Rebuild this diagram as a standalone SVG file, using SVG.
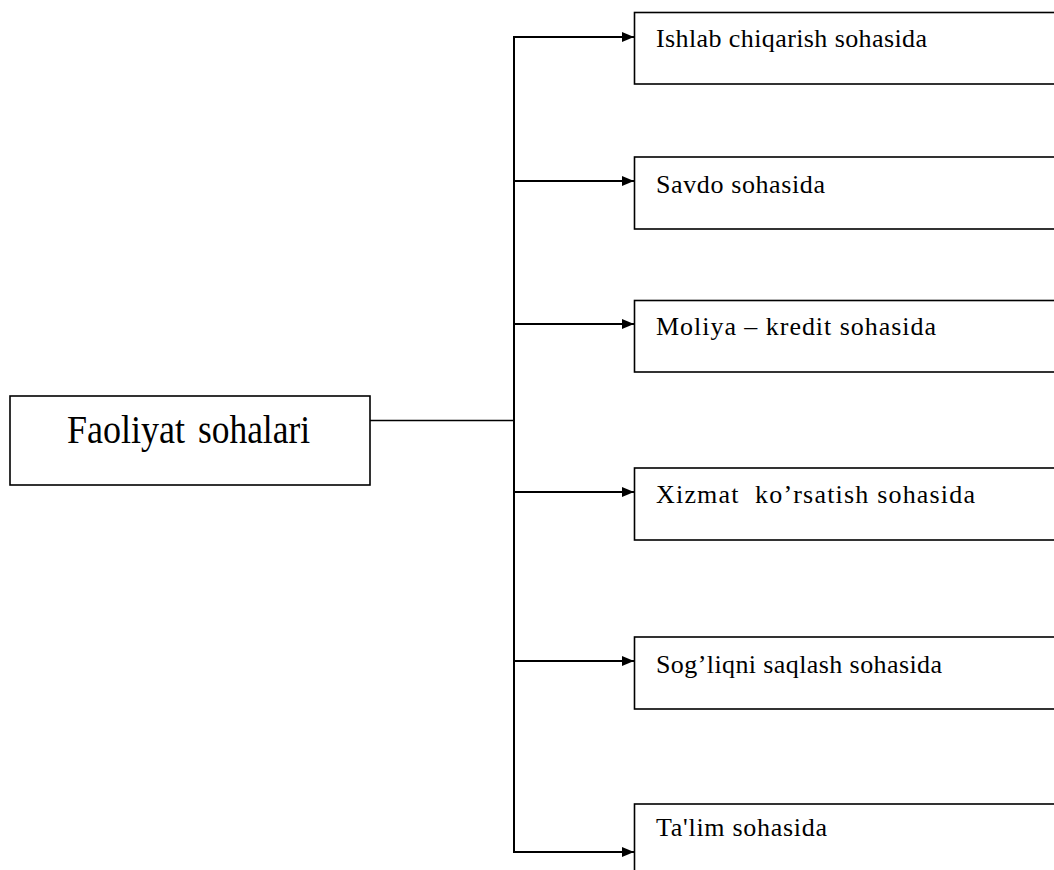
<svg xmlns="http://www.w3.org/2000/svg" width="1054" height="870" viewBox="0 0 1054 870">
<style>
.box{fill:#fff;stroke:#000;stroke-width:1.6}
.lbl{font-family:"Liberation Serif","Times New Roman",serif;font-size:26px;fill:#000}
.main{font-family:"Liberation Serif","Times New Roman",serif;font-size:40px;fill:#000}
.con{fill:none;stroke:#000;stroke-width:2}
</style>
<defs>
<marker id="arr" markerUnits="userSpaceOnUse" markerWidth="13" markerHeight="11" refX="12" refY="5.5" orient="auto">
<path d="M0,0.5 L12,5.5 L0,10.5 Z" fill="#000"/>
</marker>
</defs>
<rect width="1054" height="870" fill="#fff"/>
<g id="connectors">
<line x1="370" y1="420.5" x2="514" y2="420.5" stroke="#000" stroke-width="1.5"/>
<line class="con" x1="514" y1="37" x2="514" y2="852"/>
<line class="con" x1="513" y1="37" x2="634" y2="37" marker-end="url(#arr)"/>
<line class="con" x1="513" y1="181" x2="634" y2="181" marker-end="url(#arr)"/>
<line class="con" x1="513" y1="324" x2="634" y2="324" marker-end="url(#arr)"/>
<line class="con" x1="513" y1="492" x2="634" y2="492" marker-end="url(#arr)"/>
<line class="con" x1="513" y1="661" x2="634" y2="661" marker-end="url(#arr)"/>
<line class="con" x1="513" y1="852" x2="634" y2="852" marker-end="url(#arr)"/>
</g>
<g id="main-node">
<rect class="box" x="10" y="396" width="360" height="89"/>
<text class="main" y="443"><tspan x="67" textLength="118" lengthAdjust="spacingAndGlyphs">Faoliyat</tspan> <tspan x="198" textLength="112" lengthAdjust="spacingAndGlyphs">sohalari</tspan></text>
</g>
<g id="node1">
<rect class="box" x="634.5" y="12.5" width="430" height="71.5"/>
<text class="lbl" x="656" y="47" textLength="271" lengthAdjust="spacing">Ishlab chiqarish sohasida</text>
</g>
<g id="node2">
<rect class="box" x="634.5" y="157" width="430" height="72"/>
<text class="lbl" x="656" y="193" textLength="169" lengthAdjust="spacing">Savdo sohasida</text>
</g>
<g id="node3">
<rect class="box" x="634.5" y="300.5" width="430" height="71.5"/>
<text class="lbl" x="656" y="335" textLength="280" lengthAdjust="spacing">Moliya – kredit sohasida</text>
</g>
<g id="node4">
<rect class="box" x="634.5" y="468" width="430" height="72"/>
<text class="lbl" x="656" y="503" textLength="319" lengthAdjust="spacing" xml:space="preserve">Xizmat  ko’rsatish sohasida</text>
</g>
<g id="node5">
<rect class="box" x="634.5" y="637" width="430" height="72"/>
<text class="lbl" x="656" y="673" textLength="286" lengthAdjust="spacing">Sog’liqni saqlash sohasida</text>
</g>
<g id="node6">
<rect class="box" x="634.5" y="804" width="430" height="80"/>
<text class="lbl" x="656" y="836" textLength="171" lengthAdjust="spacing">Ta'lim sohasida</text>
</g>
</svg>
